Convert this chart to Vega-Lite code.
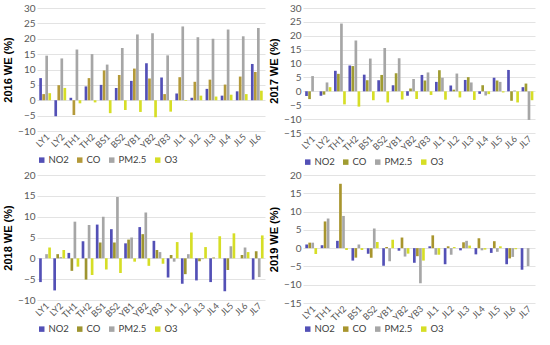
{
"$schema": "https://vega.github.io/schema/vega-lite/v6.json",
"padding": {"left": 2, "top": 3, "right": 2, "bottom": 0},
"config": {
  "font": "Lato",
  "view": {"stroke": null},
  "axis": {"gridColor": "#e3e3e3", "domain": false, "ticks": false, "labelColor": "#595959", "labelFontSize": 10, "titleFontSize": 11, "titleFontWeight": "bold", "titleColor": "#000000", "titleFont": "Liberation Sans"},
  "legend": {"labelFontSize": 9.5, "labelColor": "#404040", "symbolType": "square", "symbolSize": 30, "symbolStrokeWidth": 0, "columnPadding": 6, "labelOffset": 2, "offset": 4},
  "concat": {"spacing": 3}
},
"datasets": {
"d2016": [
{"s":"LY1","p":"NO2","v":7.2},{"s":"LY1","p":"CO","v":2},{"s":"LY1","p":"PM2.5","v":14.5},{"s":"LY1","p":"O3","v":2.3},
{"s":"LY2","p":"NO2","v":-5.2},{"s":"LY2","p":"CO","v":4.9},{"s":"LY2","p":"PM2.5","v":13.6},{"s":"LY2","p":"O3","v":4},
{"s":"TH1","p":"NO2","v":0.8},{"s":"TH1","p":"CO","v":-4.8},{"s":"TH1","p":"PM2.5","v":16.5},{"s":"TH1","p":"O3","v":-1},
{"s":"TH2","p":"NO2","v":4.5},{"s":"TH2","p":"CO","v":7.2},{"s":"TH2","p":"PM2.5","v":15},{"s":"TH2","p":"O3","v":-0.7},
{"s":"BS1","p":"NO2","v":5},{"s":"BS1","p":"CO","v":9.7},{"s":"BS1","p":"PM2.5","v":11.6},{"s":"BS1","p":"O3","v":-4.2},
{"s":"BS2","p":"NO2","v":4},{"s":"BS2","p":"CO","v":8.2},{"s":"BS2","p":"PM2.5","v":17},{"s":"BS2","p":"O3","v":-3.2},
{"s":"YB1","p":"NO2","v":6.3},{"s":"YB1","p":"CO","v":10.3},{"s":"YB1","p":"PM2.5","v":21.4},{"s":"YB1","p":"O3","v":-3.8},
{"s":"YB2","p":"NO2","v":12},{"s":"YB2","p":"CO","v":7.1},{"s":"YB2","p":"PM2.5","v":21.8},{"s":"YB2","p":"O3","v":-5.5},
{"s":"YB3","p":"NO2","v":7.4},{"s":"YB3","p":"CO","v":2},{"s":"YB3","p":"PM2.5","v":14.6},{"s":"YB3","p":"O3","v":-3.7},
{"s":"JL1","p":"NO2","v":2.2},{"s":"JL1","p":"CO","v":7.5},{"s":"JL1","p":"PM2.5","v":24},{"s":"JL1","p":"O3","v":-0.2},
{"s":"JL2","p":"NO2","v":0.8},{"s":"JL2","p":"CO","v":6},{"s":"JL2","p":"PM2.5","v":20.5},{"s":"JL2","p":"O3","v":1.5},
{"s":"JL3","p":"NO2","v":3.7},{"s":"JL3","p":"CO","v":6.7},{"s":"JL3","p":"PM2.5","v":20},{"s":"JL3","p":"O3","v":1.2},
{"s":"JL4","p":"NO2","v":1.5},{"s":"JL4","p":"CO","v":5.1},{"s":"JL4","p":"PM2.5","v":23},{"s":"JL4","p":"O3","v":1.8},
{"s":"JL5","p":"NO2","v":2.9},{"s":"JL5","p":"CO","v":7.7},{"s":"JL5","p":"PM2.5","v":20.8},{"s":"JL5","p":"O3","v":2},
{"s":"JL6","p":"NO2","v":11.8},{"s":"JL6","p":"CO","v":9.2},{"s":"JL6","p":"PM2.5","v":23.5},{"s":"JL6","p":"O3","v":3.1}
],
"d2017": [
{"s":"LY1","p":"NO2","v":-1.7},{"s":"LY1","p":"CO","v":-2.8},{"s":"LY1","p":"PM2.5","v":5.5},{"s":"LY1","p":"O3","v":0},
{"s":"LY2","p":"NO2","v":-1.6},{"s":"LY2","p":"CO","v":-1.2},{"s":"LY2","p":"PM2.5","v":3.2},{"s":"LY2","p":"O3","v":1.5},
{"s":"TH1","p":"NO2","v":7.4},{"s":"TH1","p":"CO","v":6.3},{"s":"TH1","p":"PM2.5","v":24.4},{"s":"TH1","p":"O3","v":-4.7},
{"s":"TH2","p":"NO2","v":9.3},{"s":"TH2","p":"CO","v":9.1},{"s":"TH2","p":"PM2.5","v":18.3},{"s":"TH2","p":"O3","v":-5.5},
{"s":"BS1","p":"NO2","v":6},{"s":"BS1","p":"CO","v":4},{"s":"BS1","p":"PM2.5","v":11.8},{"s":"BS1","p":"O3","v":-3.2},
{"s":"BS2","p":"NO2","v":4},{"s":"BS2","p":"CO","v":5.9},{"s":"BS2","p":"PM2.5","v":15.6},{"s":"BS2","p":"O3","v":-4},
{"s":"YB1","p":"NO2","v":2.2},{"s":"YB1","p":"CO","v":6.5},{"s":"YB1","p":"PM2.5","v":11.9},{"s":"YB1","p":"O3","v":-2.9},
{"s":"YB2","p":"NO2","v":-1.6},{"s":"YB2","p":"CO","v":1},{"s":"YB2","p":"PM2.5","v":4.4},{"s":"YB2","p":"O3","v":-2.8},
{"s":"YB3","p":"NO2","v":5.9},{"s":"YB3","p":"CO","v":3.9},{"s":"YB3","p":"PM2.5","v":6.8},{"s":"YB3","p":"O3","v":-1.3},
{"s":"JL1","p":"NO2","v":3.4},{"s":"JL1","p":"CO","v":7.6},{"s":"JL1","p":"PM2.5","v":4.9},{"s":"JL1","p":"O3","v":-3},
{"s":"JL2","p":"NO2","v":2.1},{"s":"JL2","p":"CO","v":0.6},{"s":"JL2","p":"PM2.5","v":6.4},{"s":"JL2","p":"O3","v":-2.2},
{"s":"JL3","p":"NO2","v":4.1},{"s":"JL3","p":"CO","v":5.1},{"s":"JL3","p":"PM2.5","v":3.2},{"s":"JL3","p":"O3","v":-3.1},
{"s":"JL4","p":"NO2","v":-0.9},{"s":"JL4","p":"CO","v":2.2},{"s":"JL4","p":"PM2.5","v":-1.5},{"s":"JL4","p":"O3","v":-1},
{"s":"JL5","p":"NO2","v":4.9},{"s":"JL5","p":"CO","v":3.9},{"s":"JL5","p":"PM2.5","v":3.4},{"s":"JL5","p":"O3","v":-0.4},
{"s":"JL6","p":"NO2","v":7.7},{"s":"JL6","p":"CO","v":-3.4},{"s":"JL6","p":"PM2.5","v":0.3},{"s":"JL6","p":"O3","v":-4},
{"s":"JL7","p":"NO2","v":1.5},{"s":"JL7","p":"CO","v":2.8},{"s":"JL7","p":"PM2.5","v":-10.3},{"s":"JL7","p":"O3","v":-3.2}
],
"d2018": [
{"s":"LY1","p":"NO2","v":-5.7},{"s":"LY1","p":"CO","v":0},{"s":"LY1","p":"PM2.5","v":1},{"s":"LY1","p":"O3","v":2.6},
{"s":"LY2","p":"NO2","v":-7.7},{"s":"LY2","p":"CO","v":1},{"s":"LY2","p":"PM2.5","v":0.3},{"s":"LY2","p":"O3","v":2},
{"s":"TH1","p":"NO2","v":1.3},{"s":"TH1","p":"CO","v":-3},{"s":"TH1","p":"PM2.5","v":8.8},{"s":"TH1","p":"O3","v":-2},
{"s":"TH2","p":"NO2","v":4.1},{"s":"TH2","p":"CO","v":-5.1},{"s":"TH2","p":"PM2.5","v":8},{"s":"TH2","p":"O3","v":-4},
{"s":"BS1","p":"NO2","v":8.1},{"s":"BS1","p":"CO","v":3.8},{"s":"BS1","p":"PM2.5","v":10},{"s":"BS1","p":"O3","v":-2.7},
{"s":"BS2","p":"NO2","v":7},{"s":"BS2","p":"CO","v":3.8},{"s":"BS2","p":"PM2.5","v":14.7},{"s":"BS2","p":"O3","v":-3.5},
{"s":"YB1","p":"NO2","v":3.6},{"s":"YB1","p":"CO","v":4.5},{"s":"YB1","p":"PM2.5","v":5},{"s":"YB1","p":"O3","v":-0.8},
{"s":"YB2","p":"NO2","v":7.5},{"s":"YB2","p":"CO","v":5.8},{"s":"YB2","p":"PM2.5","v":11},{"s":"YB2","p":"O3","v":-1.8},
{"s":"YB3","p":"NO2","v":4.2},{"s":"YB3","p":"CO","v":2},{"s":"YB3","p":"PM2.5","v":1.5},{"s":"YB3","p":"O3","v":-1.3},
{"s":"JL1","p":"NO2","v":-4.6},{"s":"JL1","p":"CO","v":0.8},{"s":"JL1","p":"PM2.5","v":-0.8},{"s":"JL1","p":"O3","v":3.9},
{"s":"JL2","p":"NO2","v":-6.1},{"s":"JL2","p":"CO","v":-3.8},{"s":"JL2","p":"PM2.5","v":1},{"s":"JL2","p":"O3","v":6.2},
{"s":"JL3","p":"NO2","v":-5.3},{"s":"JL3","p":"CO","v":-0.7},{"s":"JL3","p":"PM2.5","v":-0.2},{"s":"JL3","p":"O3","v":2.7},
{"s":"JL4","p":"NO2","v":-5.7},{"s":"JL4","p":"CO","v":0.2},{"s":"JL4","p":"PM2.5","v":0},{"s":"JL4","p":"O3","v":5.3},
{"s":"JL5","p":"NO2","v":-7.9},{"s":"JL5","p":"CO","v":-2.8},{"s":"JL5","p":"PM2.5","v":2.9},{"s":"JL5","p":"O3","v":6},
{"s":"JL6","p":"NO2","v":0},{"s":"JL6","p":"CO","v":0.8},{"s":"JL6","p":"PM2.5","v":2.6},{"s":"JL6","p":"O3","v":1.5},
{"s":"JL7","p":"NO2","v":-5.1},{"s":"JL7","p":"CO","v":1.7},{"s":"JL7","p":"PM2.5","v":-4.5},{"s":"JL7","p":"O3","v":5.5}
],
"d2019": [
{"s":"LY1","p":"NO2","v":1},{"s":"LY1","p":"CO","v":1.5},{"s":"LY1","p":"PM2.5","v":1.5},{"s":"LY1","p":"O3","v":-1.6},
{"s":"TH1","p":"NO2","v":0.8},{"s":"TH1","p":"CO","v":7.3},{"s":"TH1","p":"PM2.5","v":8.1},{"s":"TH1","p":"O3","v":0},
{"s":"TH2","p":"NO2","v":2},{"s":"TH2","p":"CO","v":17.6},{"s":"TH2","p":"PM2.5","v":8.8},{"s":"TH2","p":"O3","v":-0.5},
{"s":"BS1","p":"NO2","v":-3.4},{"s":"BS1","p":"CO","v":-2.6},{"s":"BS1","p":"PM2.5","v":1},{"s":"BS1","p":"O3","v":-0.5},
{"s":"BS2","p":"NO2","v":-1.5},{"s":"BS2","p":"CO","v":-2.6},{"s":"BS2","p":"PM2.5","v":5.4},{"s":"BS2","p":"O3","v":1.7},
{"s":"YB1","p":"NO2","v":-4.8},{"s":"YB1","p":"CO","v":0.3},{"s":"YB1","p":"PM2.5","v":-3.6},{"s":"YB1","p":"O3","v":2.3},
{"s":"YB2","p":"NO2","v":-0.7},{"s":"YB2","p":"CO","v":2.9},{"s":"YB2","p":"PM2.5","v":-2.3},{"s":"YB2","p":"O3","v":-1.5},
{"s":"YB3","p":"NO2","v":-4},{"s":"YB3","p":"CO","v":-2.2},{"s":"YB3","p":"PM2.5","v":-9.6},{"s":"YB3","p":"O3","v":-3.4},
{"s":"JL1","p":"NO2","v":0.5},{"s":"JL1","p":"CO","v":3.5},{"s":"JL1","p":"PM2.5","v":-1.8},{"s":"JL1","p":"O3","v":-1.8},
{"s":"JL2","p":"NO2","v":-4.4},{"s":"JL2","p":"CO","v":0.5},{"s":"JL2","p":"PM2.5","v":-1.8},{"s":"JL2","p":"O3","v":0.3},
{"s":"JL3","p":"NO2","v":-0.6},{"s":"JL3","p":"CO","v":1.6},{"s":"JL3","p":"PM2.5","v":2},{"s":"JL3","p":"O3","v":0.7},
{"s":"JL4","p":"NO2","v":-1.7},{"s":"JL4","p":"CO","v":2.7},{"s":"JL4","p":"PM2.5","v":-0.6},{"s":"JL4","p":"O3","v":-0.4},
{"s":"JL5","p":"NO2","v":-1.3},{"s":"JL5","p":"CO","v":1.9},{"s":"JL5","p":"PM2.5","v":-1},{"s":"JL5","p":"O3","v":0.5},
{"s":"JL6","p":"NO2","v":-4.4},{"s":"JL6","p":"CO","v":-2.8},{"s":"JL6","p":"PM2.5","v":-2.4},{"s":"JL6","p":"O3","v":-0.3},
{"s":"JL7","p":"NO2","v":-5.9},{"s":"JL7","p":"CO","v":0},{"s":"JL7","p":"PM2.5","v":-4.9},{"s":"JL7","p":"O3","v":0}
]
},
"resolve": {"scale": {"color": "independent"}, "legend": {"color": "independent"}},
"vconcat": [
{
 "resolve": {"scale": {"color": "independent"}, "legend": {"color": "independent"}},
 "hconcat": [
 {
  "data": {"name": "d2016"},
  "width": 228, "height": 123,
  "mark": "bar",
  "encoding": {
   "x": {"field": "s", "type": "nominal", "sort": null, "title": null, "scale": {"paddingInner": 0.22, "paddingOuter": 0.15}, "axis": {"labelAngle": -45, "labelFontSize": 9, "grid": false, "labelPadding": 1}},
   "xOffset": {"field": "p", "type": "nominal", "sort": ["NO2", "CO", "PM2.5", "O3"], "scale": {"paddingInner": 0.12}},
   "y": {"field": "v", "type": "quantitative", "title": "2016 WE (%)", "scale": {"domain": [-10, 30], "nice": false, "zero": false}, "axis": {"values": [-10, -5, 0, 5, 10, 15, 20, 25, 30], "titlePadding": 4}},
   "color": {"field": "p", "type": "nominal", "sort": ["NO2", "CO", "PM2.5", "O3"], "scale": {"domain": ["NO2", "CO", "PM2.5", "O3"], "range": ["#5350B6", "#B49A3A", "#A6A6A6", "#D6DE26"]}, "legend": {"orient": "bottom", "direction": "horizontal", "title": null}}
  }
 },
 {
  "data": {"name": "d2017"},
  "width": 232, "height": 125,
  "mark": "bar",
  "encoding": {
   "x": {"field": "s", "type": "nominal", "sort": null, "title": null, "scale": {"paddingInner": 0.22, "paddingOuter": 0.15}, "axis": {"labelAngle": -45, "labelFontSize": 9, "grid": false, "labelPadding": 1}},
   "xOffset": {"field": "p", "type": "nominal", "sort": ["NO2", "CO", "PM2.5", "O3"], "scale": {"paddingInner": 0.12}},
   "y": {"field": "v", "type": "quantitative", "title": "2017 WE (%)", "scale": {"domain": [-15, 30], "nice": false, "zero": false}, "axis": {"values": [-15, -10, -5, 0, 5, 10, 15, 20, 25, 30], "titlePadding": 4}},
   "color": {"field": "p", "type": "nominal", "sort": ["NO2", "CO", "PM2.5", "O3"], "scale": {"domain": ["NO2", "CO", "PM2.5", "O3"], "range": ["#5350B6", "#A09C32", "#A6A6A6", "#D6DE26"]}, "legend": {"orient": "bottom", "direction": "horizontal", "title": null}}
  }
 }
 ]
},
{
 "resolve": {"scale": {"color": "independent"}, "legend": {"color": "independent"}},
 "hconcat": [
 {
  "data": {"name": "d2018"},
  "width": 228, "height": 125,
  "mark": "bar",
  "encoding": {
   "x": {"field": "s", "type": "nominal", "sort": null, "title": null, "scale": {"paddingInner": 0.22, "paddingOuter": 0.15}, "axis": {"labelAngle": -45, "labelFontSize": 9, "grid": false, "labelPadding": 1}},
   "xOffset": {"field": "p", "type": "nominal", "sort": ["NO2", "CO", "PM2.5", "O3"], "scale": {"paddingInner": 0.12}},
   "y": {"field": "v", "type": "quantitative", "title": "2018 WE (%)", "scale": {"domain": [-10, 20], "nice": false, "zero": false}, "axis": {"values": [-10, -5, 0, 5, 10, 15, 20], "titlePadding": 4}},
   "color": {"field": "p", "type": "nominal", "sort": ["NO2", "CO", "PM2.5", "O3"], "scale": {"domain": ["NO2", "CO", "PM2.5", "O3"], "range": ["#5350B6", "#9E9530", "#A6A6A6", "#D6DE26"]}, "legend": {"orient": "bottom", "direction": "horizontal", "title": null}}
  }
 },
 {
  "data": {"name": "d2019"},
  "width": 232, "height": 128,
  "mark": "bar",
  "encoding": {
   "x": {"field": "s", "type": "nominal", "sort": null, "title": null, "scale": {"paddingInner": 0.22, "paddingOuter": 0.15}, "axis": {"labelAngle": -45, "labelFontSize": 9, "grid": false, "labelPadding": 1}},
   "xOffset": {"field": "p", "type": "nominal", "sort": ["NO2", "CO", "PM2.5", "O3"], "scale": {"paddingInner": 0.12}},
   "y": {"field": "v", "type": "quantitative", "title": "2019 WE (%)", "scale": {"domain": [-15, 20], "nice": false, "zero": false}, "axis": {"values": [-15, -10, -5, 0, 5, 10, 15, 20], "titlePadding": 4}},
   "color": {"field": "p", "type": "nominal", "sort": ["NO2", "CO", "PM2.5", "O3"], "scale": {"domain": ["NO2", "CO", "PM2.5", "O3"], "range": ["#5350B6", "#A8952E", "#A6A6A6", "#D6DE26"]}, "legend": {"orient": "bottom", "direction": "horizontal", "title": null, "offset": 1}}
  }
 }
 ]
}
]
}
